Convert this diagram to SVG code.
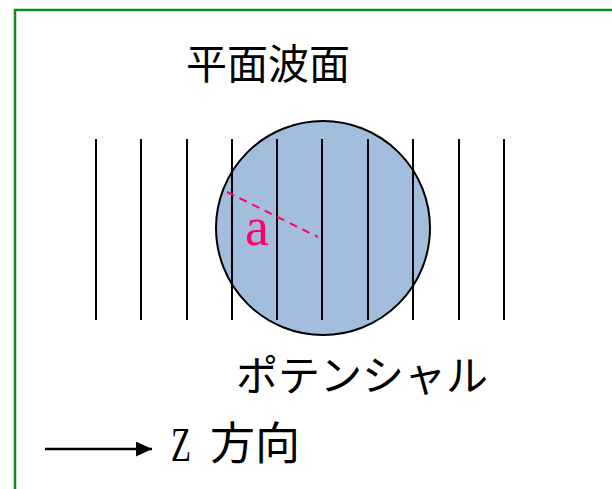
<svg xmlns="http://www.w3.org/2000/svg" width="612" height="489" viewBox="0 0 612 489">
<style>
.jp{font-family:"Noto Sans CJK JP","Noto Sans",sans-serif;fill:#000}
.wf{stroke:#000;stroke-width:2}
.sr{font-family:"Liberation Serif",serif}
</style>
<defs>
<marker id="ah" markerWidth="16" markerHeight="15" refX="16" refY="7.5" orient="auto" markerUnits="userSpaceOnUse">
<path d="M0,0 L16,7.5 L0,15 Z" fill="#000"/>
</marker>
</defs>
<rect x="0" y="0" width="612" height="489" fill="#fff"/>
<rect id="frame" x="15" y="10" width="620" height="500" fill="none" stroke="#0B8A1F" stroke-width="2.5"/>
<g id="title"><text class="jp" x="186" y="79" font-size="41">平面波面</text></g>
<g id="potential">
<circle cx="323" cy="228" r="107" fill="#A3BEDC" stroke="#000" stroke-width="2"/>
</g>
<g id="wavefronts">
<line class="wf" x1="96" y1="139" x2="96" y2="320"/>
<line class="wf" x1="141" y1="139" x2="141" y2="320"/>
<line class="wf" x1="187" y1="139" x2="187" y2="320"/>
<line class="wf" x1="232" y1="139" x2="232" y2="320"/>
<line class="wf" x1="277" y1="139" x2="277" y2="320"/>
<line class="wf" x1="322" y1="139" x2="322" y2="320"/>
<line class="wf" x1="368" y1="139" x2="368" y2="320"/>
<line class="wf" x1="413" y1="139" x2="413" y2="320"/>
<line class="wf" x1="459" y1="139" x2="459" y2="320"/>
<line class="wf" x1="504" y1="139" x2="504" y2="320"/>
</g>
<g id="radius">
<line x1="227" y1="192" x2="318" y2="237" stroke="#FF0066" stroke-width="2" stroke-dasharray="8,6"/>
<text class="sr" x="245" y="245" font-size="54" fill="#FF0066">a</text>
</g>
<g id="potential-label"><text class="jp" x="236" y="391" font-size="42">ポテンシャル</text></g>
<g id="connectors">
<line x1="45" y1="449" x2="152" y2="449" stroke="#000" stroke-width="2.5" marker-end="url(#ah)"/>
</g>
<g id="z-label">
<text class="sr" x="171" y="461" font-size="48" fill="#000" textLength="20" lengthAdjust="spacingAndGlyphs">Z</text>
<text class="jp" x="210" y="460" font-size="45">方向</text>
</g>
</svg>
